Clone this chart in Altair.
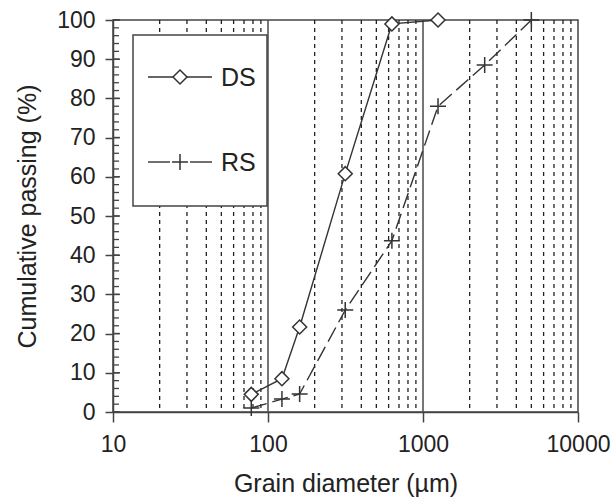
import altair as alt
import pandas as pd

# ---- data ----
ds_x = [78, 123, 160, 315, 630, 1250]
ds_y = [4.5, 8.5, 21.7, 60.8, 99, 100]
rs_x = [78, 123, 160, 315, 630, 1250, 2500, 5000]
rs_y = [1, 3.3, 4.6, 26, 43.7, 78, 88.5, 100]
x_ticks = [10, 100, 1000, 10000]
minor_grid = [20, 30, 40, 50, 60, 70, 80, 90,
              200, 300, 400, 500, 600, 700, 800, 900,
              2000, 3000, 4000, 5000, 6000, 7000, 8000, 9000]
major_grid = [100, 1000]
y_major = list(range(0, 101, 10))
y_minor = list(range(0, 101, 2))
series_names = ["DS", "RS"]

W, H = 465, 392
FONT = "Liberation Sans"
INK = "#333333"

xscale = alt.Scale(type="log", domain=[10, 10000])
yscale = alt.Scale(domain=[0, 100])

xaxis = alt.Axis(values=x_ticks, format="d", tickSize=10, labelPadding=11,
                 labelFlush=False, grid=False, title="Grain diameter (µm)",
                 titleY=71, titleBaseline="middle")
yaxis = alt.Axis(values=y_major, tickSize=8, labelPadding=10, grid=False,
                 title="Cumulative passing (%)", titleX=-86, titleY=196,
                 titleAngle=270, titleAlign="center", titleBaseline="middle")

X = alt.X("d:Q", scale=xscale, axis=xaxis)
Y = alt.Y("p:Q", scale=yscale, axis=yaxis)

ds = pd.DataFrame({"d": ds_x, "p": ds_y})
rs = pd.DataFrame({"d": rs_x, "p": rs_y})
one = pd.DataFrame({"k": [0]})

grid_minor = alt.Chart(pd.DataFrame({"d": minor_grid})).mark_rule(
    stroke="#222222", strokeDash=[4, 4], strokeWidth=1.3
).encode(x=X, y=alt.value(0), y2=alt.value(H))

grid_major = alt.Chart(pd.DataFrame({"d": major_grid})).mark_rule(
    stroke="#555555", strokeWidth=1.6
).encode(x=X, y=alt.value(0), y2=alt.value(H))

ytick_minor = alt.Chart(pd.DataFrame({"p": y_minor})).mark_rule(
    stroke="#444444", strokeWidth=1.3
).encode(y=Y, x=alt.value(0), x2=alt.value(6))

ytick_major = alt.Chart(pd.DataFrame({"p": y_major})).mark_rule(
    stroke="#444444", strokeWidth=1.5
).encode(y=Y, x=alt.value(0), x2=alt.value(7))

ds_line = alt.Chart(ds).mark_line(color=INK, strokeWidth=1.4).encode(x=X, y=Y)
ds_pts = alt.Chart(ds).mark_point(
    shape="diamond", filled=True, fill="white", stroke=INK,
    strokeWidth=1.5, size=196, opacity=1
).encode(x=X, y=Y)

rs_line = alt.Chart(rs).mark_line(color=INK, strokeWidth=1.4,
                                  strokeDash=[16, 6]).encode(x=X, y=Y)
PLUS = "M-1,0L1,0M0,-1L0,1"
rs_pts = alt.Chart(rs).mark_point(
    shape=PLUS, filled=False, stroke=INK, strokeWidth=1.5, size=256, opacity=1
).encode(x=X, y=Y)

# ---- legend box ----
leg_box = alt.Chart(one).mark_rect(fill="white", stroke="#444444", strokeWidth=1.5).encode(
    x=alt.value(20), x2=alt.value(154), y=alt.value(15), y2=alt.value(186))
leg_ds_line = alt.Chart(one).mark_rule(stroke=INK, strokeWidth=1.4).encode(
    x=alt.value(35), x2=alt.value(99), y=alt.value(57))
leg_ds_pt = alt.Chart(one).mark_point(
    shape="diamond", filled=True, fill="white", stroke=INK,
    strokeWidth=1.5, size=196, opacity=1
).encode(x=alt.value(67), y=alt.value(57))
leg_ds_txt = alt.Chart(one).mark_text(
    text=series_names[0], font=FONT, fontSize=25, align="left",
    baseline="middle", color="#222222"
).encode(x=alt.value(108), y=alt.value(58))
leg_rs_l1 = alt.Chart(one).mark_rule(stroke=INK, strokeWidth=1.4).encode(
    x=alt.value(35), x2=alt.value(57), y=alt.value(142))
leg_rs_l2 = alt.Chart(one).mark_rule(stroke=INK, strokeWidth=1.4).encode(
    x=alt.value(77), x2=alt.value(99), y=alt.value(142))
leg_rs_pt = alt.Chart(one).mark_point(
    shape=PLUS, filled=False, stroke=INK, strokeWidth=1.5, size=256, opacity=1
).encode(x=alt.value(67), y=alt.value(142))
leg_rs_txt = alt.Chart(one).mark_text(
    text=series_names[1], font=FONT, fontSize=25, align="left",
    baseline="middle", color="#222222"
).encode(x=alt.value(108), y=alt.value(143))

chart = alt.layer(
    grid_minor, grid_major, ytick_minor, ytick_major,
    ds_line, rs_line, ds_pts, rs_pts,
    leg_box, leg_ds_line, leg_ds_pt, leg_ds_txt,
    leg_rs_l1, leg_rs_l2, leg_rs_pt, leg_rs_txt,
).properties(
    width=W, height=H,
    autosize=alt.AutoSizeParams(type="none"),
    padding={"left": 113, "top": 20, "right": 38, "bottom": 85},
    background="white",
).configure_view(
    stroke="#444444", strokeWidth=1.5
).configure_axis(
    domainColor="#444444", domainWidth=1.5, tickColor="#444444", tickWidth=1.5,
    labelFont=FONT, labelFontSize=23, labelColor="#222222",
    titleFont=FONT, titleFontSize=25, titleColor="#222222", titleFontWeight="normal",
)

chart.save("out.html", embed_options={"renderer": "svg", "actions": False})
